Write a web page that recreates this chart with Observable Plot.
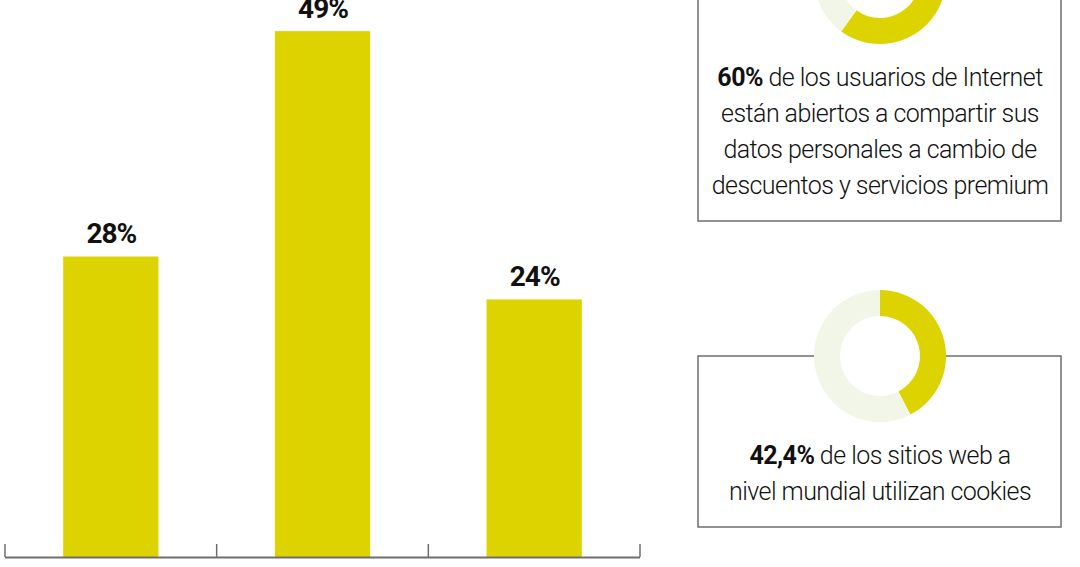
<!DOCTYPE html>
<html><head><meta charset="utf-8">
<script src="https://cdn.jsdelivr.net/npm/d3@7"></script>
<script src="https://cdn.jsdelivr.net/npm/@observablehq/plot@0.6"></script>
<style>
html,body{margin:0;padding:0;background:#fff;overflow:hidden}
#chart{width:1080px;height:567px}
</style></head><body><div id="chart"></div>
<script>
// ---- data ----
const categories = ["Grupo 1", "Grupo 2", "Grupo 3"];
const values = [28, 49, 24];
const valueLabels = ["28%", "49%", "24%"];
const donutValues = [60, 42.4];
const donutBold = ["60%", "42,4%"];
const donutText = [
  [" de los usuarios de Internet", "están abiertos a compartir sus", "datos personales a cambio de", "descuentos y servicios premium"],
  [" de los sitios web a", "nivel mundial utilizan cookies"]
];

// ---- style ----
const YELLOW = "#dcd300", LIGHT = "#f2f6e9", GRAY = "#6e6e6e", INK = "#111";
const FONT = "Roboto, 'Liberation Sans', sans-serif";

const data = categories.map((c, i) => ({cat: c, value: values[i], label: valueLabels[i]}));

const chart = Plot.plot({
  width: 1080, height: 567,
  marginLeft: 5, marginRight: 440, marginTop: 0, marginBottom: 10,
  x: {type: "band", domain: categories, paddingInner: 0.55, paddingOuter: 0.275, round: false, axis: null},
  y: {domain: [0, 51.9], axis: null},
  style: {fontFamily: FONT, background: "#fff", overflow: "hidden"},
  marks: [
    Plot.barY(data, {x: "cat", y: "value", fill: YELLOW}),
    Plot.ruleY([0], {stroke: GRAY, strokeWidth: 2}),
    Plot.text(data, {x: "cat", y: "value", text: "label", lineAnchor: "bottom", dy: -14,
      fontSize: 28, fontWeight: 700, fill: INK})
  ]
});
document.getElementById("chart").appendChild(chart);

const svg = d3.select(chart);
svg.selectAll("text").attr("letter-spacing", "-1px");
const sx = chart.scale("x");
const sy = chart.scale("y");
const y0 = sy.apply(0);
const pInner = sx.paddingInner ?? 0.55;
const half = sx.step * pInner / 2;
const bounds = sx.domain.map(d => sx.apply(d) - half)
  .concat(sx.apply(sx.domain[sx.domain.length - 1]) + sx.bandwidth + half);
svg.append("g").selectAll("line").data(bounds).join("line")
  .attr("x1", d => d).attr("x2", d => d)
  .attr("y1", y0).attr("y2", y0 - 13)
  .attr("stroke", GRAY).attr("stroke-width", 1.5);

// ---- right panel: boxes with donuts ----
const boxX0 = 698, boxX1 = 1061, cx = 880, R = 66, r = 40;
const boxTops = [-22, 356], boxBottoms = [221, 527];
const pie = d3.pie().sort(null).value(d => d);
const arc = d3.arc().innerRadius(r).outerRadius(R);

donutValues.forEach((v, i) => {
  const g = svg.append("g");
  const top = boxTops[i];
  g.append("rect").attr("x", boxX0).attr("y", top)
    .attr("width", boxX1 - boxX0).attr("height", boxBottoms[i] - top)
    .attr("fill", "none").attr("stroke", GRAY).attr("stroke-width", 1.5);
  const dg = g.append("g").attr("transform", `translate(${cx},${top})`);
  dg.append("circle").attr("r", r).attr("fill", "#fff");
  dg.selectAll("path").data(pie([v, 100 - v])).join("path")
    .attr("d", arc).attr("fill", (d, j) => j === 0 ? YELLOW : LIGHT);
  const lines = donutText[i];
  lines.forEach((ln, k) => {
    const t = g.append("text").attr("x", cx).attr("y", top + 108 + k * 36)
      .attr("text-anchor", "middle").attr("font-family", FONT)
      .attr("font-size", 25).attr("letter-spacing", "-0.55px").attr("fill", INK);
    if (k === 0) t.append("tspan").attr("font-weight", 700).text(donutBold[i]);
    t.append("tspan").attr("font-weight", 300).text(ln);
  });
});
</script></body></html>
